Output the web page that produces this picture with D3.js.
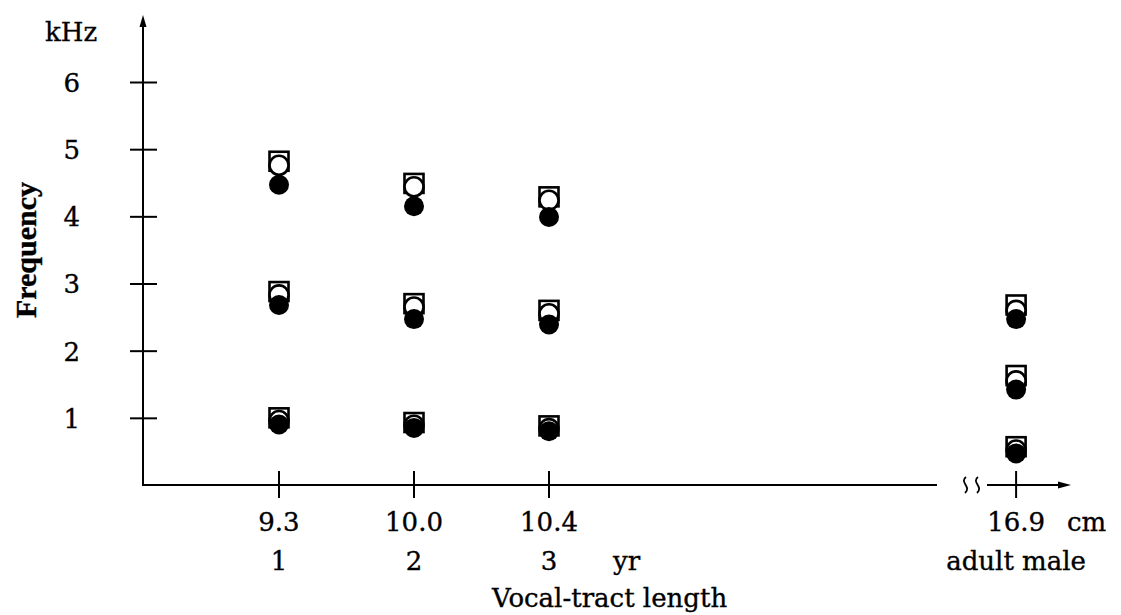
<!DOCTYPE html>
<html>
<head>
<meta charset="utf-8">
<script src="https://cdn.jsdelivr.net/npm/d3@7"></script>
<style>
  html, body { margin: 0; padding: 0; background: #fff; }
  svg { display: block; }
  text { font-family: "DejaVu Serif", "Liberation Serif", serif; fill: #000; stroke: #000; stroke-width: 0.35px; }
</style>
</head>
<body>
<script>
// Formant frequencies (kHz) by vocal-tract length / age group.
const ages = ["1", "2", "3", "adult male"];
const tractLengths = ["9.3", "10.0", "10.4", "16.9"];
const yTicks = [1, 2, 3, 4, 5, 6];

// F1, F2, F3 for each age group, one array per marker type
const squareF = [
  [1.00, 2.88, 4.82],
  [0.93, 2.70, 4.49],
  [0.88, 2.60, 4.29],
  [0.57, 1.63, 2.68]
];
const openF = [
  [0.96, 2.83, 4.76],
  [0.89, 2.65, 4.44],
  [0.84, 2.55, 4.24],
  [0.52, 1.55, 2.60]
];
const filledF = [
  [0.90, 2.68, 4.47],
  [0.85, 2.47, 4.15],
  [0.80, 2.39, 3.99],
  [0.47, 1.42, 2.47]
];

const W = 1121, H = 615;
const svg = d3.select("body").append("svg").attr("width", W).attr("height", H);

const axisX = 143, axisY = 485;
const y = d3.scaleLinear().domain([0, 6]).range([axisY, 82]);
// children sit on evenly spaced slots; the adult column lies past the axis break
const x = d3.scaleLinear().domain([0, 2]).range([279, 549]);
const slot = a => (a === "adult male" ? 5.46 : ages.indexOf(a));
const px = a => x(slot(a));

const ink = "#000";
const g = svg.append("g");

// ---- y axis ----
g.append("line").attr("x1", axisX).attr("x2", axisX)
  .attr("y1", axisY).attr("y2", 24)
  .attr("stroke", ink).attr("stroke-width", 2);
g.append("path").attr("d", `M${axisX},15 L${axisX - 3.5},27 L${axisX + 3.5},27 Z`).attr("fill", ink);

const yAxis = d3.axisLeft(y).tickValues(yTicks).tickSizeInner(13).tickSizeOuter(0).tickPadding(50)
  .tickFormat(d3.format("d"));
const yg = g.append("g").attr("transform", `translate(${axisX},0)`).call(yAxis);
yg.select(".domain").remove();
yg.selectAll(".tick line").attr("x1", 14).attr("stroke", ink).attr("stroke-width", 2);
yg.selectAll(".tick text").attr("font-size", 26).attr("font-family", "DejaVu Serif")
  .attr("fill", ink).attr("dy", "0.36em");

g.append("text").attr("x", 45).attr("y", 41).attr("font-size", 26).text("kHz");

g.append("text")
  .attr("transform", `translate(36,250) rotate(-90)`)
  .attr("text-anchor", "middle").attr("font-size", 30).attr("font-weight", "bold")
  .style("font-family", "'Liberation Serif', serif")
  .text("Frequency");

// ---- x axis with break ----
const breakX = 937;
g.append("line").attr("x1", axisX - 1).attr("x2", breakX).attr("y1", axisY).attr("y2", axisY)
  .attr("stroke", ink).attr("stroke-width", 2);
g.append("line").attr("x1", 987).attr("x2", 1060).attr("y1", axisY).attr("y2", axisY)
  .attr("stroke", ink).attr("stroke-width", 2);
g.append("path").attr("d", `M1071,${axisY} L1058,${axisY - 3.5} L1058,${axisY + 3.5} Z`).attr("fill", ink);
// break squiggles
[966, 978].forEach(cx => {
  const p = d3.path();
  p.moveTo(cx, axisY - 8);
  p.bezierCurveTo(cx - 7, axisY - 3, cx + 6, axisY + 2, cx - 1, axisY + 8);
  g.append("path").attr("d", p.toString()).attr("fill", "none")
    .attr("stroke", ink).attr("stroke-width", 1.8);
});

// x ticks crossing the axis
g.selectAll(".xtick").data(ages).join("line").attr("class", "xtick")
  .attr("x1", d => px(d)).attr("x2", d => px(d))
  .attr("y1", axisY - 14).attr("y2", axisY + 13)
  .attr("stroke", ink).attr("stroke-width", 2);

// tick labels: tract length (cm) and age (yr)
g.selectAll(".xlen").data(ages).join("text").attr("class", "xlen")
  .attr("x", d => px(d)).attr("y", 531).attr("text-anchor", "middle").attr("font-size", 26)
  .text((d, i) => tractLengths[i]);
g.selectAll(".xage").data(ages).join("text").attr("class", "xage")
  .attr("x", d => px(d)).attr("y", 570).attr("text-anchor", "middle").attr("font-size", 26)
  .text(d => d);
g.append("text").attr("x", 1067).attr("y", 531).attr("font-size", 26).text("cm");
g.append("text").attr("x", 613).attr("y", 570).attr("font-size", 26).text("yr");
g.append("text").attr("x", 492).attr("y", 607).attr("font-size", 26).text("Vocal-tract length");

// ---- markers ----
function flat(arr) {
  const out = [];
  arr.forEach((vals, i) => vals.forEach(v => out.push({ age: ages[i], v })));
  return out;
}
const sq = 19;
g.selectAll(".sq").data(flat(squareF)).join("rect").attr("class", "sq")
  .attr("x", d => px(d.age) - sq / 2).attr("y", d => y(d.v) - sq / 2)
  .attr("width", sq).attr("height", sq)
  .attr("fill", "#fff").attr("stroke", ink).attr("stroke-width", 2.6);
g.selectAll(".oc").data(flat(openF)).join("circle").attr("class", "oc")
  .attr("cx", d => px(d.age)).attr("cy", d => y(d.v)).attr("r", 9.5)
  .attr("fill", "#fff").attr("stroke", ink).attr("stroke-width", 2.6);
g.selectAll(".fc").data(flat(filledF)).join("circle").attr("class", "fc")
  .attr("cx", d => px(d.age)).attr("cy", d => y(d.v)).attr("r", 10)
  .attr("fill", ink);
</script>
</body>
</html>
